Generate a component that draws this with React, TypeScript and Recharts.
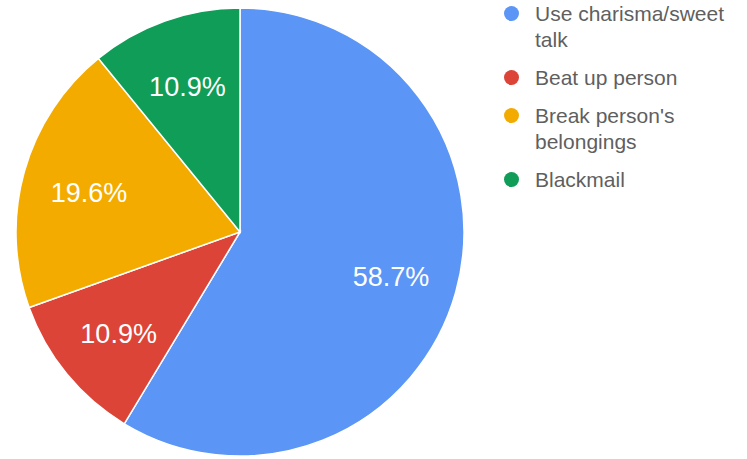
import React from 'react';
import { PieChart, Pie, Cell } from 'recharts';

const categories = ['Use charisma/sweet talk', 'Beat up person', "Break person's belongings", 'Blackmail'];
const values = [58.7, 10.9, 19.6, 10.9];
const colors = ['#5b95f6', '#dc4437', '#f4ab00', '#0f9d58'];

const data = categories.map((name, i) => ({ name, value: values[i] }));

const RADIAN = Math.PI / 180;

const renderLabel = (props: any) => {
  const { cx, cy, midAngle, outerRadius, value } = props;
  const r = outerRadius * 0.7;
  const x = cx + r * Math.cos(-midAngle * RADIAN);
  const y = cy + r * Math.sin(-midAngle * RADIAN) + 3;
  return (
    <text
      x={x}
      y={y}
      fill="#ffffff"
      textAnchor="middle"
      dominantBaseline="central"
      fontFamily="'Liberation Sans', Arial, sans-serif"
      fontSize={27}
    >
      {Number(value).toFixed(1)}%
    </text>
  );
};

const LegendBlock = () => (
  <div
    style={{
      position: 'absolute',
      left: 504,
      top: 1,
      width: 240,
      fontFamily: "'Liberation Sans', Arial, sans-serif",
      fontSize: 21,
      lineHeight: '26px',
      color: '#5f5f5f',
    }}
  >
    {categories.map((c, i) => (
      <div key={c} style={{ display: 'flex', alignItems: 'flex-start', marginBottom: 12 }}>
        <div
          style={{
            width: 15,
            height: 15,
            borderRadius: '50%',
            background: colors[i],
            marginTop: 5,
            marginRight: 16,
            flexShrink: 0,
          }}
        />
        <div style={{ width: 200 }}>{c}</div>
      </div>
    ))}
  </div>
);

export default function App() {
  return (
    <div style={{ position: 'absolute', left: 0, top: 0, width: 747, height: 459, background: '#fff' }}>
      <PieChart width={747} height={459} margin={{ top: 0, right: 0, bottom: 0, left: 0 }}>
        <Pie
          data={data}
          dataKey="value"
          nameKey="name"
          cx={240}
          cy={232}
          outerRadius={224}
          startAngle={90}
          endAngle={-270}
          stroke="#ffffff"
          strokeWidth={1.5}
          label={renderLabel}
          labelLine={false}
          isAnimationActive={false}
        >
          {data.map((d, i) => (
            <Cell key={d.name} fill={colors[i]} />
          ))}
        </Pie>
      </PieChart>
      <LegendBlock />
    </div>
  );
}
